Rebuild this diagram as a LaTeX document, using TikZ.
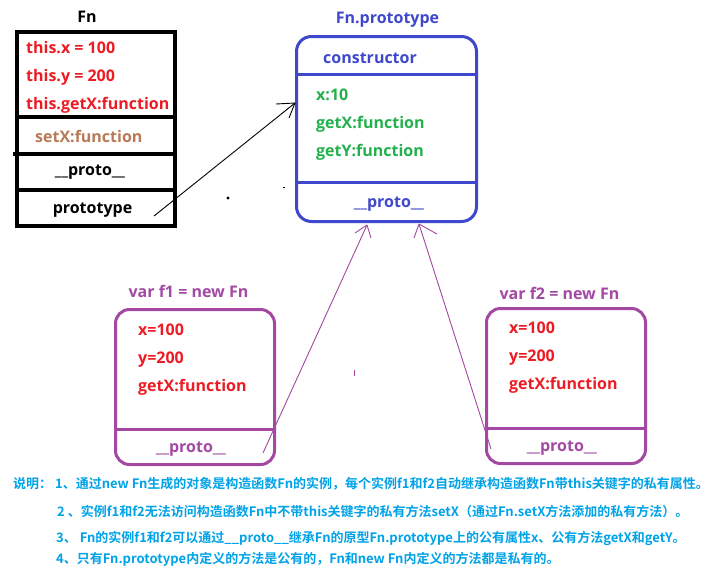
\documentclass[tikz,border=0pt]{standalone}
\usepackage{fontspec}
\setmainfont{Open Sans}
\newfontfamily\cjk{Noto Sans CJK SC}[BoldFont={Noto Sans CJK SC Bold}]
\definecolor{cred}{HTML}{ED1C24}
\definecolor{cbrown}{HTML}{B97A57}
\definecolor{cblue}{HTML}{3F48CC}
\definecolor{cgreen}{HTML}{22B14C}
\definecolor{cpurple}{HTML}{A349A4}
\definecolor{clblue}{HTML}{00A2E8}
\begin{document}
\begin{tikzpicture}[x=1pt,y=-1pt,
  lab/.style={font=\bfseries\fontsize{16}{16}\selectfont, inner sep=0pt, anchor=base west},
  clab/.style={lab, anchor=base},
  note/.style={font=\cjk\bfseries\fontsize{13}{13}\selectfont, text=clblue, inner sep=0pt, anchor=west},
  fnbox/.style={draw=black, line width=4pt, inner sep=0pt},
  objbox/.style={line width=3pt, rounded corners=14pt, inner sep=0pt},
  thinline/.style={line width=0.9pt}]
\useasboundingbox (0,0) rectangle (713,574);
\fill[white] (0,0) rectangle (713,574);

% ---------- Fn box ----------
\node[lab, anchor=base, text=black] (fntitle) at (87,22) {Fn};
\node[fnbox, minimum width=158pt, minimum height=194pt] (fn) at (96,129) {};
\draw[line width=4pt] (fn.west |- 0,117) -- (fn.east |- 0,117);
\draw[line width=4pt] (13,154) -- (fn.east |- 0,154);
\draw[line width=4pt] (fn.west |- 0,190) -- (fn.east |- 0,190);
\node[lab, text=cred] (fx) at (26,53) {this.x = 100};
\node[lab, text=cred] (fy) at (26,81) {this.y = 200};
\node[lab, text=cred] (fgx) at (26,109) {this.getX:function};
\node[lab, text=cbrown] (fsx) at (35,142) {setX:function};
\node[clab, text=black] (fproto) at (90,175) {\_\_proto\_\_};
\node[clab, text=black] (fprototype) at (92.5,213) {prototype};

% ---------- Fn.prototype box ----------
\node[lab, anchor=base, text=cblue] (fnptitle) at (387.5,23) {Fn.prototype};
\node[objbox, draw=cblue, rounded corners=15pt, minimum width=180pt, minimum height=185pt] (fnp) at (386.5,129) {};
\draw[cblue, line width=3pt] (fnp.west |- 0,74) -- (fnp.east |- 0,74);
\draw[cblue, line width=3pt] (fnp.west |- 0,182) -- (fnp.east |- 0,182);
\node[lab, text=cblue] (cons) at (323,63) {constructor};
\node[lab, text=cgreen] (px) at (316,100) {x:10};
\node[lab, text=cgreen] (pgx) at (316,128) {getX:function};
\node[lab, text=cgreen] (pgy) at (316,156) {getY:function};
\node[clab, text=cblue] (pproto) at (389,207) {\_\_proto\_\_};

% ---------- f1 box ----------
\node[lab, anchor=base, text=cpurple] (f1title) at (188.5,297) {var f1 = new Fn};
\node[objbox, draw=cpurple, minimum width=159pt, minimum height=155pt] (f1) at (195,387) {};
\draw[cpurple, line width=3pt] (f1.west |- 0,429) -- (f1.east |- 0,429);
\node[lab, text=cred] (f1x) at (138,335) {x=100};
\node[lab, text=cred] (f1y) at (138,363) {y=200};
\node[lab, text=cred] (f1g) at (138,391) {getX:function};
\node[clab, text=cpurple] (f1p) at (191,452) {\_\_proto\_\_};

% ---------- f2 box ----------
\node[lab, anchor=base, text=cpurple] (f2title) at (559.5,299) {var f2 = new Fn};
\node[objbox, draw=cpurple, minimum width=159pt, minimum height=155pt] (f2) at (566,386) {};
\draw[cpurple, line width=3pt] (f2.west |- 0,428) -- (f2.east |- 0,428);
\node[lab, text=cred] (f2x) at (509,333) {x=100};
\node[lab, text=cred] (f2y) at (509,361) {y=200};
\node[lab, text=cred] (f2g) at (509,389) {getX:function};
\node[clab, text=cpurple] (f2p) at (562,451) {\_\_proto\_\_};

% ---------- connectors ----------
\coordinate (a1s) at (154,216);
\coordinate (a1t) at (295,103);
\draw[thinline, black] (a1s) -- (a1t);
\draw[thinline, black] (a1t) -- ++(-19,1);
\draw[thinline, black] (a1t) -- ++(-6,15);

\coordinate (a2s) at (263,453);
\coordinate (a2t) at (367,225);
\draw[thinline, cpurple] (a2s) -- (a2t);
\draw[thinline, cpurple] (a2t) -- ++(-12,8);
\draw[thinline, cpurple] (a2t) -- ++(4,13);

\coordinate (a3s) at (491,449);
\coordinate (a3t) at (419,224);
\draw[thinline, cpurple] (a3s) -- (a3t);
\draw[thinline, cpurple] (a3t) -- ++(-5,14);
\draw[thinline, cpurple] (a3t) -- ++(18,10);

% stray marks
\fill[black] (228,198) circle (1.6pt);
\draw[black, line width=1pt] (283,187) -- (285,187);
\draw[cpurple, line width=1pt] (354,370) -- (354,376);

% ---------- notes ----------
\node[note] (n1) at (13,484) {说明： 1、通过new Fn生成的对象是构造函数Fn的实例，每个实例f1和f2自动继承构造函数Fn带this关键字的私有属性。};
\node[note] (n2) at (57,512) {2 、实例f1和f2无法访问构造函数Fn中不带this关键字的私有方法setX（通过Fn.setX方法添加的私有方法）。};
\node[note] (n3) at (56,538) {3、 Fn的实例f1和f2可以通过\_\_proto\_\_继承Fn的原型Fn.prototype上的公有属性x、公有方法getX和getY。};
\node[note] (n4) at (56,559) {4、只有Fn.prototype内定义的方法是公有的，Fn和new Fn内定义的方法都是私有的。};
\end{tikzpicture}
\end{document}
